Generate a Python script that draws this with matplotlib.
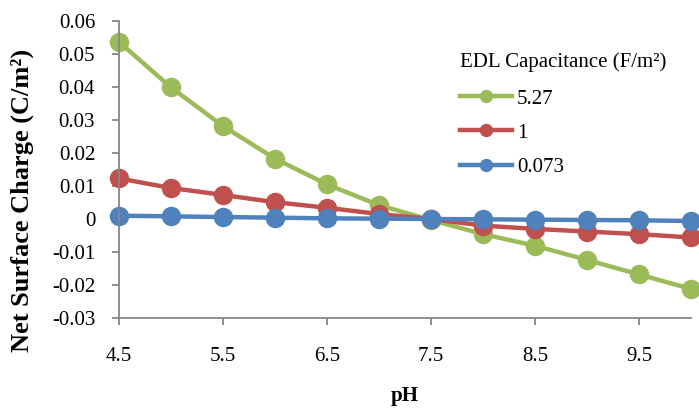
import matplotlib.pyplot as plt

# pH values and net surface charge (C/m^2) for each EDL capacitance
ph = [4.5, 5.0, 5.5, 6.0, 6.5, 7.0, 7.5, 8.0, 8.5, 9.0, 9.5, 10.0]
charge_527 = [0.0537, 0.0399, 0.0282, 0.0183, 0.0105, 0.0042, -0.0003,
              -0.0046, -0.0081, -0.0124, -0.0168, -0.0212]
charge_1 = [0.0123, 0.0094, 0.0073, 0.0051, 0.0034, 0.0015, 0.0,
            -0.0020, -0.0030, -0.0038, -0.0046, -0.0056]
charge_0073 = [0.0010, 0.0008, 0.0006, 0.0004, 0.0002, 0.0001, 0.0,
               -0.0001, -0.0002, -0.0003, -0.0004, -0.0006]
labels = ['5.27', '1', '0.073']
xticks = [4.5, 5.5, 6.5, 7.5, 8.5, 9.5]
yticks = [-0.03, -0.02, -0.01, 0, 0.01, 0.02, 0.03, 0.04, 0.05, 0.06]

plt.rcParams['font.family'] = ['Liberation Serif', 'DejaVu Serif']

fig = plt.figure(figsize=(6.99, 4.09), dpi=100)
ax = fig.add_axes([0.170, 0.2225, 0.8186, 0.7262])

colors = ['#9BBB59', '#C0504D', '#4F81BD']
for y, lab, c in zip([charge_527, charge_1, charge_0073], labels, colors):
    ax.plot(ph, y, color=c, linewidth=3.2, marker='o', markersize=13,
            label=lab, clip_on=False)

ax.set_xlim(4.5, 10)
ax.set_ylim(-0.03, 0.06)
ax.set_xticks(xticks)
ax.set_xticklabels([str(t) for t in xticks])
ax.set_yticks(yticks)
ax.set_yticklabels(['%g' % t for t in yticks])

for s in ['top', 'right']:
    ax.spines[s].set_visible(False)
for s in ['left', 'bottom']:
    ax.spines[s].set_color('#868686')
    ax.spines[s].set_linewidth(1.3)
ax.tick_params(axis='both', colors='#868686', labelcolor='black',
               labelsize=15, length=5, width=1.3, direction='out')
ax.tick_params(axis='x', pad=16)
ax.tick_params(axis='y', pad=12)

ax.set_xlabel('pH', fontsize=15, fontweight='bold', va='center')
ax.xaxis.set_label_coords(0.5, -0.263)
ax.set_ylabel('Net Surface Charge (C/m²)', fontsize=19, fontweight='bold',
              va='center')
ax.yaxis.set_label_coords(-0.168, 0.397)

leg = ax.legend(title='EDL Capacitance (F/m²)', loc='upper left',
                bbox_to_anchor=(0.643, 0.897), bbox_transform=fig.transFigure,
                frameon=False, fontsize=15, title_fontsize=15, borderpad=0,
                handlelength=2.5, labelspacing=0.7, handletextpad=0.25,
                markerscale=0.66)
leg._legend_box.align = 'left'
leg._legend_box.sep = 12

fig.savefig('out.png', dpi=100)
